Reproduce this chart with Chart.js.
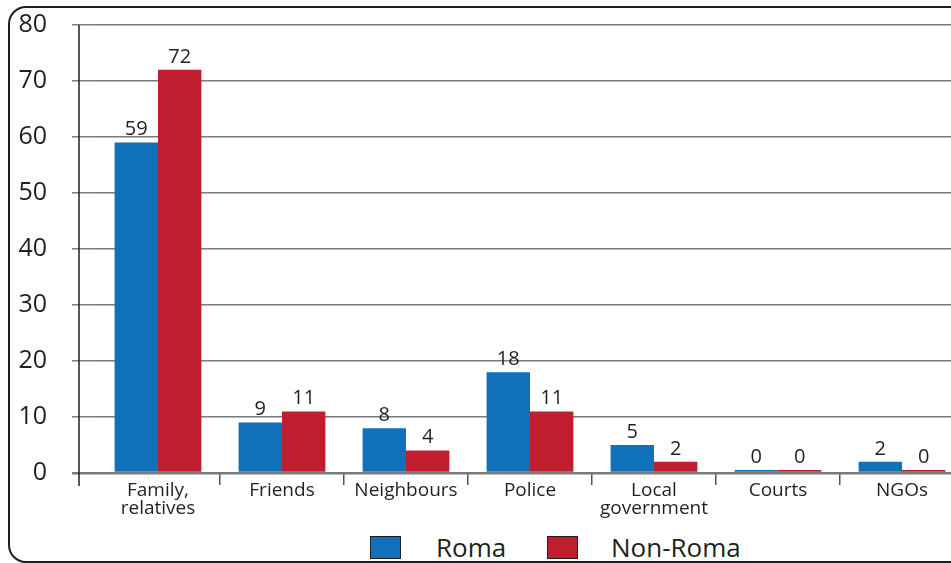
<!DOCTYPE html>
<html>
<head>
<meta charset="utf-8">
<script src="https://cdn.jsdelivr.net/npm/chart.js@4"></script>
<style>
  html, body { margin: 0; padding: 0; background: #fff; overflow: hidden; width: 951px; height: 563px; }
  #frame { position: absolute; left: 8px; top: 6px; width: 1000px; height: 553px; border: 2.5px solid #231f20; border-radius: 18px; }
  #wrap { position: absolute; left: 0; top: -15px; width: 964px; height: 535px; }
  .leg { position: absolute; top: 533px; font: 26px "Open Sans", sans-serif; color: #231f20; display: flex; align-items: center; height: 28px; }
  .leg span.box { display: inline-block; width: 31px; height: 23px; border: 1px solid #231f20; box-sizing: border-box; }
</style>
</head>
<body>
<div id="frame"></div>
<div id="wrap"><canvas id="chart"></canvas></div>
<div class="leg" id="leg0" style="left:370px"></div>
<div class="leg" id="leg1" style="left:547px"></div>
<script>
// categories and values (%)
var categories = [["Family,", "relatives"], "Friends", "Neighbours", "Police", ["Local", "government"], "Courts", "NGOs"];
var roma = [59, 9, 8, 18, 5, 0, 2];
var nonRoma = [72, 11, 4, 11, 2, 0, 0];
var seriesNames = ["Roma", "Non-Roma"];
var colors = ["#1070b9", "#be1e2d"];

var ink = "#231f20";
var font = '"Open Sans", sans-serif';

// value labels above the bars
var valueLabels = {
  id: 'valueLabels',
  afterDatasetsDraw: function(chart) {
    var ctx = chart.ctx;
    ctx.save();
    ctx.font = '20px ' + font;
    ctx.fillStyle = ink;
    ctx.textAlign = 'center';
    ctx.textBaseline = 'bottom';
    chart.data.datasets.forEach(function(ds, i) {
      chart.getDatasetMeta(i).data.forEach(function(bar, j) {
        ctx.fillText(ds.data[j], bar.x, bar.y - 3);
      });
    });
    ctx.restore();
  }
};

// vertical axis line, a little left of the first category
var axisLine = {
  id: 'axisLine',
  afterDraw: function(chart) {
    var a = chart.chartArea, ctx = chart.ctx;
    ctx.save();
    ctx.strokeStyle = ink;
    ctx.lineWidth = 1.5;
    ctx.beginPath();
    ctx.moveTo(a.left - 17, a.top);
    ctx.lineTo(a.left - 17, a.bottom + 13);
    ctx.stroke();
    ctx.restore();
  }
};

new Chart(document.getElementById("chart"), {
  type: 'bar',
  data: {
    labels: categories,
    datasets: [
      { label: seriesNames[0], data: roma, backgroundColor: colors[0], minBarLength: 3 },
      { label: seriesNames[1], data: nonRoma, backgroundColor: colors[1], minBarLength: 3 }
    ]
  },
  options: {
    responsive: true,
    maintainAspectRatio: false,
    animation: false,
    layout: { padding: { top: 9, right: 0, left: 0, bottom: 0 } },
    datasets: { bar: { categoryPercentage: 0.7, barPercentage: 1.0 } },
    plugins: { legend: { display: false }, tooltip: { enabled: false } },
    scales: {
      x: {
        grid: {
          drawOnChartArea: false,
          tickLength: 12,
          lineWidth: 1.5,
          color: function(c) { return c.index === 0 ? 'rgba(0,0,0,0)' : '#555'; }
        },
        border: { display: false },
        ticks: { color: ink, font: { family: font, size: 19, lineHeight: 0.95 }, padding: -3, maxRotation: 0, autoSkip: false },
        afterFit: function(s) { s.height = 47; }
      },
      y: {
        min: 0,
        max: 80,
        ticks: { stepSize: 10, color: ink, font: { family: font, size: 25 }, padding: 25 },
        grid: {
          tickLength: 24,
          color: '#7a7a7a',
          lineWidth: function(c) { return c.tick && c.tick.value === 0 ? 2.5 : 1.5; }
        },
        border: { display: false },
        afterFit: function(s) { s.width = 96; }
      }
    }
  },
  plugins: [valueLabels, axisLine]
});

// simple legend below the plot
seriesNames.forEach(function(name, i) {
  var el = document.getElementById('leg' + i);
  el.innerHTML = '<span class="box" style="background:' + colors[i] + '"></span>' +
    '<span style="margin-left:' + (i === 0 ? 35 : 33) + 'px">' + name + '</span>';
});
</script>
</body>
</html>
